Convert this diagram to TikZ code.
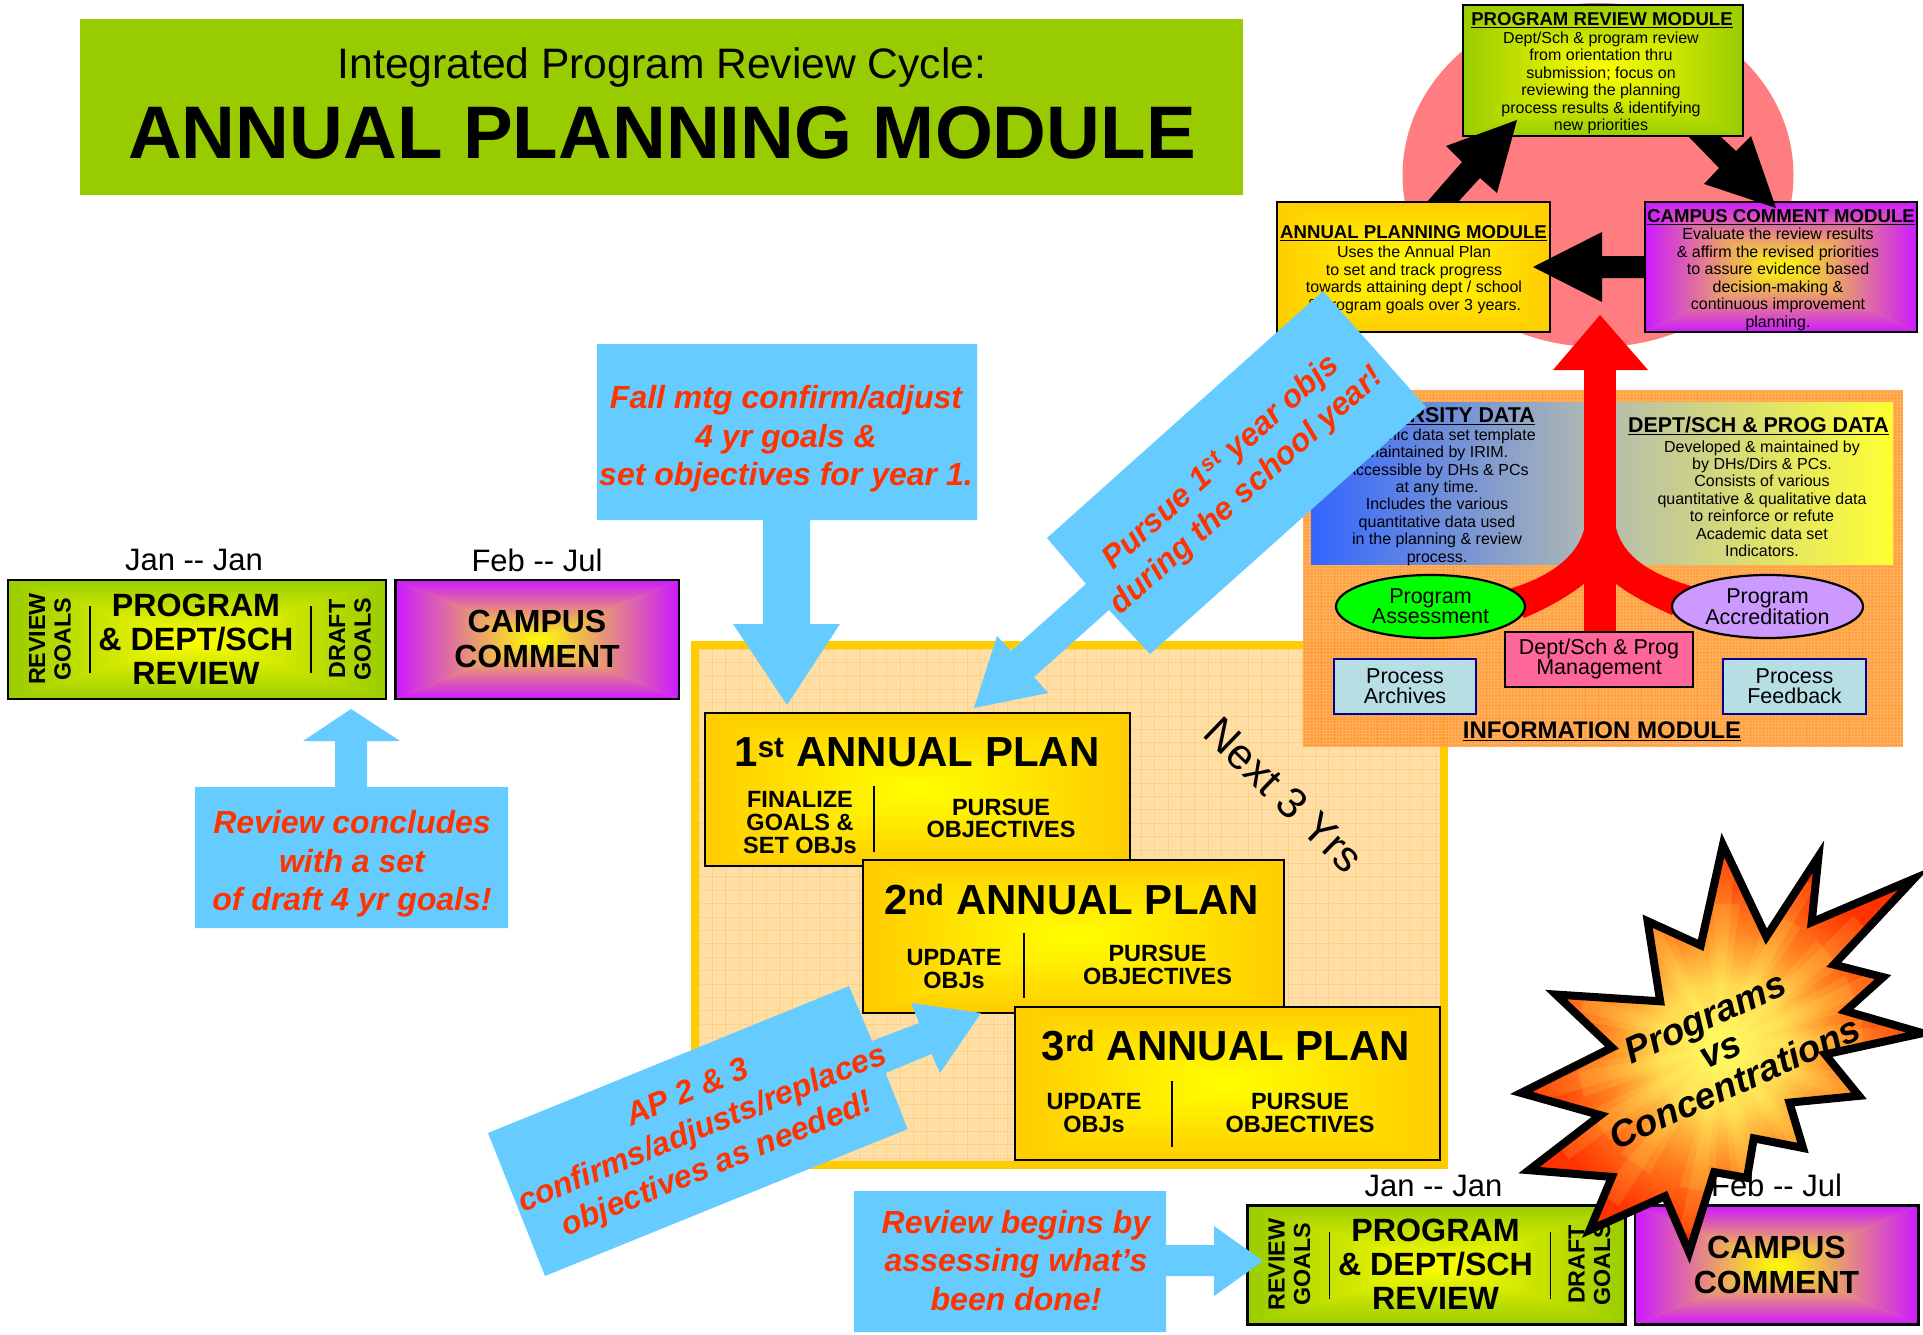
\documentclass[tikz,border=0pt]{standalone}
\usepackage{fontspec}
\usetikzlibrary{shapes.geometric}
\setmainfont{Liberation Sans}
\newcommand{\fsz}[2]{\fontsize{#1pt}{#2pt}\selectfont}
\definecolor{cgreen}{HTML}{99CC00}
\definecolor{cgreenm}{HTML}{CCE500}
\definecolor{cgold}{HTML}{FFCC00}
\definecolor{cgoldm}{HTML}{FFE500}
\definecolor{cyel}{HTML}{FFFF00}
\definecolor{cpurple}{HTML}{CC19FF}
\definecolor{cpurplem}{HTML}{E5A0D0}
\definecolor{cpink}{HTML}{FF7C80}
\definecolor{cblue}{HTML}{66CCFF}
\definecolor{ctxt}{HTML}{FF3300}
\definecolor{corange}{HTML}{FF9933}
\definecolor{corangeb}{HTML}{FFB566}
\definecolor{cframe}{HTML}{FFE0A8}
\definecolor{cgrid}{HTML}{FFD088}
\definecolor{cgridb}{HTML}{FFDCA0}
\definecolor{cblueb}{HTML}{3366FF}
\definecolor{cyelb}{HTML}{FFFF33}
\definecolor{cmidb}{HTML}{B4BCB0}
\definecolor{lilac}{HTML}{CC99FF}
\definecolor{cmgmt}{HTML}{FF6699}
\definecolor{lightbox}{HTML}{B7DEE3}
\definecolor{cnavy}{HTML}{000099}
\definecolor{cstarA}{HTML}{FFFF66}
\definecolor{cstarB}{HTML}{FFD850}
\definecolor{cstarC}{HTML}{FF8020}
\definecolor{cstarD}{HTML}{FF3300}
\pgfdeclareradialshading{starshade}{\pgfpoint{0bp}{0bp}}{
  color(0bp)=(cstarA); color(8bp)=(cstarB); color(15bp)=(cstarC); color(23bp)=(cstarD); color(50bp)=(cstarD)}
\newcommand{\rshade}[7]{%
  \pgfmathsetmacro{\cxx}{(#1+#3)/2}\pgfmathsetmacro{\cyy}{(#2+#4)/2}%
  \fill[#7] (#1,#2) rectangle (#3,#4);
  \shade[top color=#5,middle color=#7,bottom color=#6] (#1,#2)--(#3,#2)--(\cxx,\cyy)--cycle;
  \shade[top color=#6,middle color=#7,bottom color=#5] (#1,#4)--(#3,#4)--(\cxx,\cyy)--cycle;
  \shade[left color=#5,middle color=#7,right color=#6] (#1,#2)--(#1,#4)--(\cxx,\cyy)--cycle;
  \shade[left color=#6,middle color=#7,right color=#5] (#3,#2)--(#3,#4)--(\cxx,\cyy)--cycle;
}
% name x0 y0 x1 y1 outer mid
\newcommand{\gbox}[7]{%
  \rshade{#2}{#3}{#4}{#5}{#6}{cyel}{#7}%
  \pgfmathsetmacro{\ww}{#4-#2}\pgfmathsetmacro{\hh}{#5-#3}%
  \node[draw=black,line width=2.6pt,inner sep=0pt,outer sep=0pt,minimum width=\ww pt,minimum height=\hh pt] (#1) at (\cxx,\cyy) {};
}
% x0 y0 x1 y1 step style
\newcommand{\lattice}[6]{%
  \pgfmathsetmacro{\nxa}{#1+#5}\pgfmathsetmacro{\nya}{#2+#5}%
  \draw[#6] \foreach \gx in {#1,\nxa,...,#3} {(\gx,#2) -- (\gx,#4)};
  \draw[#6] \foreach \gy in {#2,\nya,...,#4} {(#1,\gy) -- (#3,\gy)};
}
\tikzset{
  calltext/.style={text=ctxt,align=center,font=\fsz{32}{38.6}\bfseries\itshape,inner sep=0pt},
  bluearrow/.style={fill=cblue,draw=none},
  plantitle/.style={font=\fsz{42}{48}\bfseries,inner sep=0pt},
  plansub/.style={font=\fsz{23.5}{22.6}\bfseries,align=center,inner sep=0pt},
  modtitle/.style={font=\fsz{18.6}{22}\bfseries,inner sep=0pt},
  datatitle/.style={font=\fsz{21.4}{24}\bfseries,inner sep=0pt},
  modbody/.style={font=\fsz{16}{17.5},align=center,inner sep=0pt},
  datatext/.style={font=\fsz{16}{17.4},align=center,inner sep=0pt},
  divider/.style={draw=black,line width=1.4pt},
  smallbox/.style={draw=cnavy,line width=1.8pt,fill=lightbox,inner sep=0pt,align=center,font=\fsz{21.5}{20}},
}
\newcommand{\reviewpair}[1]{%
  \node[font=\fsz{31}{31},inner sep=0pt] (#1jan) at (194,560) {Jan -{}- Jan};
  \node[font=\fsz{31}{31},inner sep=0pt] (#1feb) at (537,560) {Feb -{}- Jul};
  \gbox{#1prog}{8}{580}{386}{699}{cgreen}{cgreenm}
  \gbox{#1camp}{395.5}{580}{679}{699}{cpurple}{cpurplem}
  \node[font=\fsz{32.2}{34}\bfseries,align=center,inner sep=0pt] (#1progt) at (196,639) {PROGRAM\\\& DEPT/SCH\\REVIEW};
  \node[font=\fsz{23.3}{25.5}\bfseries,align=center,inner sep=0pt,rotate=90] (#1revg) at (50,639) {REVIEW\\GOALS};
  \node[font=\fsz{23.3}{25.5}\bfseries,align=center,inner sep=0pt,rotate=90] (#1drag) at (350,639) {DRAFT\\GOALS};
  \coordinate (#1da) at (90,606); \coordinate (#1db) at (90,673);
  \coordinate (#1dc) at (311,606); \coordinate (#1dd) at (311,673);
  \draw[divider] (#1da) -- (#1db);
  \draw[divider] (#1dc) -- (#1dd);
  \node[font=\fsz{32}{35}\bfseries,align=center,inner sep=0pt] (#1campt) at (537,639) {CAMPUS\\COMMENT};
}
\newcommand{\planbox}[5]{\gbox{#1}{#2}{#3}{#4}{#5}{cgold}{cgoldm}}
\newcommand{\starpath}{(1723,838)--(1768,933)--(1822,850)--(1815,918)--(1921,873)--(1838,962)--(1889,975)--(1850,1010)--(1930,1033)--(1829,1055)--(1864,1098)--(1792,1105)--(1806,1152)--(1755,1142)--(1748,1183)--(1714,1177)--(1688,1260)--(1663,1202)--(1585,1237)--(1608,1182)--(1522,1175)--(1596,1118)--(1514,1095)--(1608,1048)--(1550,993)--(1658,1000)--(1645,917)--(1700,942)--cycle}
\begin{document}
\begin{tikzpicture}[x=1pt,y=-1pt]
\useasboundingbox[fill=white] (0,0) rectangle (1923,1335);
% title
\node[fill=cgreen,minimum width=1163pt,minimum height=176pt,inner sep=0pt,outer sep=0pt] (titlebox) at (661.5,107) {};
\node[font=\fsz{42.6}{48},inner sep=0pt] (title1) at (662,67) {Integrated Program Review Cycle:};
\node[font=\fsz{74.5}{80}\bfseries,inner sep=0pt] (title2) at (662,133) {ANNUAL PLANNING MODULE};
% left review pair
\reviewpair{a}
% review concludes
\fill[bluearrow] (195,787) -- (335,787) -- (335,741) -- (303,741) -- (351,709) -- (400,741) -- (367,741) -- (367,787) -- (508,787) -- (508,928) -- (195,928) -- cycle;
\node[calltext] (conc) at (352,864) {Review concludes\\with a set\\of draft 4 yr goals!};
% frame
\draw[cgold,line width=8pt,fill=cframe] (695,645) rectangle (1444,1165);
\lattice{699}{649}{1440}{1161}{3.35}{cgridb,line width=.35pt}
\lattice{699}{649}{1440}{1161}{13.4}{cgrid,line width=.9pt}
% plans
\planbox{plana}{705}{713}{1130}{866}
\node[plantitle] (planat) at (917,752.5) {1\textsuperscript{st} ANNUAL PLAN};
\node[plansub,font=\fsz{23.5}{23}\bfseries] (planal) at (800,823) {FINALIZE\\GOALS \&\\SET OBJs};
\node[plansub] (planar) at (1001,818.5) {PURSUE\\OBJECTIVES};
\coordinate (pad1) at (874,786); \coordinate (pad2) at (874,852);
\draw[divider] (pad1) -- (pad2);
\planbox{planb}{863}{860}{1284}{1013}
\node[plantitle] (planbt) at (1072,899.5) {2\textsuperscript{nd} ANNUAL PLAN};
\node[plansub] (planbl) at (954,969) {UPDATE\\OBJs};
\node[plansub] (planbr) at (1157.5,965) {PURSUE\\OBJECTIVES};
\coordinate (pbd1) at (1024,933); \coordinate (pbd2) at (1024,998);
\draw[divider] (pbd1) -- (pbd2);
\planbox{planc}{1015}{1007}{1440}{1160}
\node[plantitle] (planct) at (1226,1045.5) {3\textsuperscript{rd} ANNUAL PLAN};
\node[plansub] (plancl) at (1094,1113) {UPDATE\\OBJs};
\node[plansub] (plancr) at (1300,1113) {PURSUE\\OBJECTIVES};
\coordinate (pcd1) at (1172,1081); \coordinate (pcd2) at (1172,1147);
\draw[divider] (pcd1) -- (pcd2);
\node[font=\fsz{43}{48},rotate=-44,inner sep=0pt] (next) at (1284,795) {Next 3 Yrs};
% circle
\fill[cpink] (1598,175) ellipse [x radius=195.5,y radius=172];
% info module
\fill[corange,opacity=.93] (1303,390) rectangle (1903,747);
\lattice{1303}{390}{1903}{747}{3.3}{corangeb,opacity=.7,line width=.5pt}
\shade[left color=cblueb,right color=cyelb,middle color=cmidb] (1311,402) rectangle (1893,564);
\node[datatitle,anchor=east] (univt) at (1535,416) {\underline{UNIVERSITY DATA}};
\node[datatext] (univb) at (1437,497) {Academic data set template\\maintained by IRIM.\\Accessible by  DHs \& PCs\\at any time.\\Includes the various\\quantitative data used\\in the planning \& review\\process.};
\node[datatitle] (deptt) at (1758.5,426) {\underline{DEPT/SCH \& PROG DATA}};
\node[datatext] (deptb) at (1762,498.5) {Developed \& maintained by\\by DHs/Dirs \& PCs.\\Consists of various\\quantitative \& qualitative data\\to reinforce or refute\\Academic data set\\Indicators.};
% red tree
\fill[red] (1584,370) rectangle (1616,640);
\fill[red] (1553,370) -- (1600,315) -- (1648,370) -- cycle;
\fill[red] (1585,525) .. controls (1580,555) and (1550,578) .. (1505,590) -- (1524,618) .. controls (1550,607) and (1570,595) .. (1585,583) -- cycle;
\fill[red] (1615,523) .. controls (1620,555) and (1650,575) .. (1695,587) -- (1672,615) .. controls (1650,605) and (1630,595) .. (1615,583) -- cycle;
% info nodes
\node[ellipse,draw=black,line width=2.2pt,fill=green,minimum width=189pt,minimum height=63pt,inner sep=0pt,align=center,font=\fsz{21.5}{20}] (assess) at (1430.5,606.5) {Program\\Assessment};
\node[ellipse,draw=black,line width=2.2pt,fill=lilac,minimum width=191pt,minimum height=63pt,inner sep=0pt,align=center,font=\fsz{21.5}{20}] (accred) at (1767.5,606.5) {Program\\Accreditation};
\node[draw=black,line width=2pt,fill=cmgmt,minimum width=188pt,minimum height=55pt,inner sep=0pt,align=center,font=\fsz{21.5}{20}] (mgmt) at (1599,659) {Dept/Sch \& Prog\\Management};
\node[smallbox,minimum width=142pt,minimum height=55pt] (arch) at (1405,686.5) {Process\\Archives};
\node[smallbox,minimum width=143pt,minimum height=55pt] (feed) at (1794.5,686.5) {Process\\Feedback};
\node[font=\fsz{24}{26}\bfseries,inner sep=0pt] (infot) at (1602,731) {\underline{INFORMATION MODULE}};
% module boxes
\gbox{modp}{1463}{5}{1743}{136}{cgreen}{cgreenm}
\gbox{moda}{1277}{202}{1550}{332}{cgold}{cgoldm}
\gbox{modc}{1645}{202}{1917}{332}{cpurple}{cpurplem}
\node[modtitle] (modpt) at (1602,20) {\underline{PROGRAM REVIEW MODULE}};
\node[modbody] (modpb) at (1601,83) {Dept/Sch \& program review\\from orientation thru\\submission; focus on\\reviewing the planning\\process results \& identifying\\new priorities};
\node[modtitle] (modat) at (1413.5,233.5) {\underline{ANNUAL PLANNING MODULE}};
\node[modbody] (modab) at (1414,280) {Uses the Annual Plan\\to set and track progress\\towards attaining dept / school\\\& program goals over 3 years.};
\node[modtitle] (modct) at (1781,217.5) {\underline{CAMPUS COMMENT MODULE}};
\node[modbody] (modcb) at (1778,279.5) {Evaluate the review  results\\\& affirm the revised priorities\\to assure evidence based\\decision-making \&\\continuous improvement\\planning.};
% black arrows
\fill[black] (1427,202) -- (1462,162) -- (1446,146) -- (1517,120) -- (1497,193) -- (1480,178) -- (1458,202) -- cycle;
\fill[black] (1689,137) -- (1719,168) -- (1704,184) -- (1776,208) -- (1751,136) -- (1736,151) -- (1721,137) -- cycle;
\fill[black] (1533,267) -- (1602,232) -- (1602,256) -- (1645,256) -- (1645,278) -- (1602,278) -- (1602,302) -- cycle;
% fall arrow
\fill[bluearrow] (597,344) -- (977,344) -- (977,520) -- (810,520) -- (810,624) -- (840,624) -- (787,705) -- (733,624) -- (763,624) -- (763,520) -- (597,520) -- cycle;
\node[calltext] (fall) at (786,439) {Fall mtg confirm/adjust\\4 yr goals \&\\set objectives for year 1.};
% pursue arrow
\fill[bluearrow] (1323,291) -- (1426,407) -- (1150,654) -- (1109,610) -- (1034,677) -- (1048,693) -- (974,708) -- (997,636) -- (1011,651) -- (1086,584) -- (1047,538) -- cycle;
\node[calltext,rotate=41.8] (pursue) at (1234,477) {Pursue 1\textsuperscript{st} year objs\\during the school year!};
% AP arrow
\fill[bluearrow] (849,986) -- (872,1041) -- (919,1023) -- (911,1003) -- (981,1013) -- (940,1073) -- (931.5,1054) -- (885.6,1073) -- (907.6,1129) -- (545,1276) -- (488,1133) -- cycle;
\node[calltext,rotate=22.3] (ap) at (703,1130) {AP 2 \& 3\\confirms/adjusts/replaces\\objectives as needed!};
% bottom pair
\begin{scope}[shift={(1239.5,625.5)}]
\reviewpair{b}
\end{scope}
% review begins
\fill[bluearrow] (854,1191) -- (1166,1191) -- (1166,1245) -- (1214,1245) -- (1214,1226) -- (1263,1261) -- (1214,1296) -- (1214,1276) -- (1166,1276) -- (1166,1332) -- (854,1332) -- cycle;
\node[calltext] (begins) at (1016,1260.5) {Review begins by\\assessing what’s\\been done!};
% star
\begin{scope}[shift={(1720,1037)},scale=.965,shift={(-1720,-1037)}]
\path[shading=starshade] \starpath;
\begin{scope}
\clip \starpath;
\coordinate (starc) at (1720,1048);
\foreach \sa in {-89,-63,-41,-23,-4,19,50,78,99,126,147,167,-162,-120}{
  \fill[cstarA,opacity=.13] (starc) -- +(\sa-7:150) -- +(\sa+7:150) -- cycle;
  \fill[cstarA,opacity=.13] (starc) -- +(\sa-3.5:195) -- +(\sa+3.5:195) -- cycle;
}
\end{scope}
\path[draw=black,line width=8pt,miter limit=25] \starpath;
\end{scope}
\node[font=\fsz{37}{36}\bfseries\itshape,align=center,inner sep=0pt,rotate=24.4] (starlbl) at (1720,1050) {Programs\\vs\\Concentrations};
\end{tikzpicture}
\end{document}
